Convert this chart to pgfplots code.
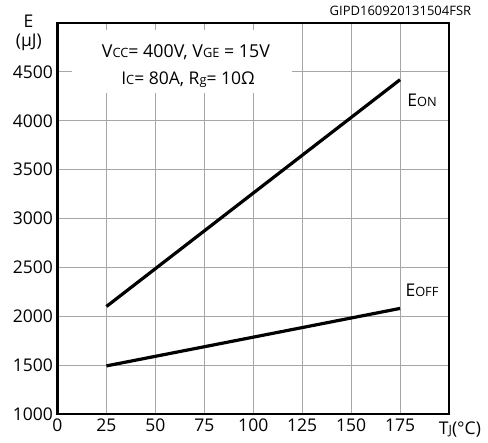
\documentclass[border=0pt]{standalone}
\usepackage{pgfplots}
\pgfplotsset{compat=1.18}
\usepackage{fontspec}
\setmainfont{Open Sans}
\newcommand{\sm}[1]{{\fontsize{12.8}{12.8}\selectfont #1}}
\begin{document}
\begin{tikzpicture}
\begin{axis}[
  at={(0,0)}, anchor=south west,
  scale only axis, width=391.5pt, height=391pt,
  xmin=0, xmax=200, ymin=1000, ymax=5000,
  xtick={0,25,...,175}, ytick={1000,1500,...,4500},
  grid=major, grid style={black!35, line width=1.1pt},
  major tick length=0pt,
  axis line style={line width=2.4pt},
  tick label style={font=\fontsize{17.5}{17.5}\selectfont},
  yticklabel style={xshift=-1pt},
  xticklabel style={yshift=-1pt},
  /pgf/number format/assume math mode=true,
  /pgf/number format/set thousands separator={},
  clip=false,
]
\addplot[black, line width=3.2pt] coordinates {(25,2100) (175,4420)};
\addplot[black, line width=3.2pt] coordinates {(25,1492) (175,2080)};
\fill[white] (axis cs:7.5,4284) rectangle (axis cs:120,4928);
\node[font=\fontsize{17.8}{17.8}\selectfont] at (axis cs:65.6,4703) {V\sm{CC}= 400V, V\sm{GE} = 15V};
\node[font=\fontsize{17.5}{17.5}\selectfont] at (axis cs:66.7,4417) {I\sm{C}= 80A, R\sm{g}= 10Ω};
\node[font=\fontsize{17.5}{17.5}\selectfont] at (axis cs:186.2,4212) {E\sm{ON}};
\node[font=\fontsize{17.5}{17.5}\selectfont] at (axis cs:186.2,2268) {E\sm{OFF}};
\node[font=\fontsize{17.5}{17.5}\selectfont] at (axis cs:-14.8,5020) {E};
\node[font=\fontsize{17.5}{17.5}\selectfont] at (axis cs:-14.6,4806) {(µJ)};
\node[font=\fontsize{13}{13}\selectfont] at (axis cs:175.2,5123) {GIPD160920131504FSR};
\node[font=\fontsize{17.5}{17.5}\selectfont] at (axis cs:205.6,836) {T\sm{J}(°C)};
\end{axis}
\pgfresetboundingbox
\path (-57.5pt,-29pt) rectangle (430.5pt,414pt);
\end{tikzpicture}
\end{document}
